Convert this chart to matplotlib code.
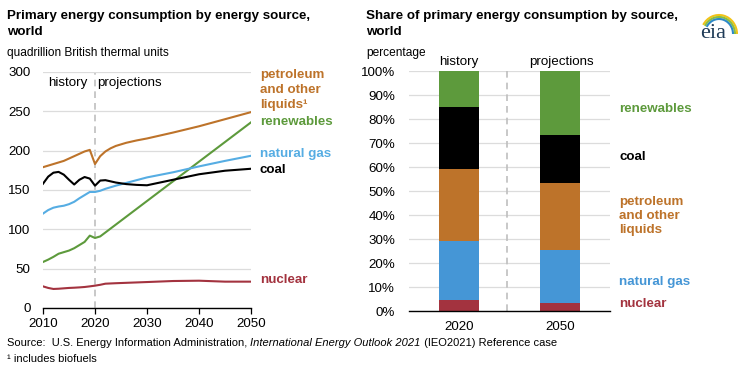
import numpy as np
import matplotlib
matplotlib.use('Agg')
import matplotlib.pyplot as plt
from matplotlib.patches import Arc

plt.rcParams['font.family'] = ['Liberation Sans', 'DejaVu Sans']

# ---------------- data ----------------
years = [2010, 2011, 2012, 2013, 2014, 2015, 2016, 2017, 2018, 2019, 2020,
         2021, 2022, 2023, 2024, 2026, 2028, 2030, 2035, 2040, 2045, 2050]
petroleum = [179, 181, 183, 185, 187, 190, 193, 196, 199, 201, 183,
             193, 199, 203, 206, 210, 213, 215.5, 223, 231, 240, 249]
coal = [158, 167, 172, 173, 169.5, 163, 157, 163, 166.5, 164.5, 155.5,
        162, 162.5, 161, 159.5, 157.5, 156.5, 156, 163, 170, 174.5, 177]
natural_gas = [120, 124.5, 127.5, 129, 130, 132, 135, 139.5, 143.5, 147.5, 147.5,
               149, 151.5, 153.5, 155.5, 159, 162.5, 166, 172.5, 180, 187, 193.5]
renewables = [58.5, 61.5, 65, 69, 71, 73, 76, 80, 84, 92, 89,
              91, 96, 101, 106, 116, 126, 136, 161, 186, 211, 236]
nuclear = [27.5, 25.5, 24.2, 24.5, 25, 25.5, 25.8, 26.2, 26.7, 27.5, 28.4,
           29.5, 30.9, 31.2, 31.5, 32, 32.5, 33, 34.3, 34.7, 33.5, 33.5]

share_years = ['2020', '2050']
share_nuclear = [4.4, 3.5]
share_gas = [24.6, 21.9]
share_petroleum = [30.2, 27.9]
share_coal = [25.9, 20.0]
share_renewables = [14.9, 26.7]

# colours
c_pet = '#BD732A'
c_ren = '#5D9A3C'
c_gas_line = '#56ADE3'
c_gas = '#4596D6'
c_coal = '#000000'
c_nuc = '#A3333F'
c_grid = '#DCDCDC'

W, H = 738, 384
fig = plt.figure(figsize=(W / 100, H / 100), dpi=100)


def fx(px):
    return px / W


def fy(py):
    return 1 - py / H


FS = 9.6   # ticks / labels
FT = 9.6   # titles
FU = 8.6   # units

# ---------------- left chart ----------------
ax1 = fig.add_axes([fx(43), fy(308), fx(251) - fx(43), fy(72) - fy(308)])
ax1.plot(years, nuclear, color=c_nuc, lw=1.5)
ax1.plot(years, renewables, color=c_ren, lw=1.5)
ax1.plot(years, natural_gas, color=c_gas_line, lw=1.5)
ax1.plot(years, coal, color=c_coal, lw=1.5)
ax1.plot(years, petroleum, color=c_pet, lw=1.5)
ax1.axvline(2020, color='#BFBFBF', lw=1.2, ls=(0, (4, 3)), zorder=0)
ax1.set_xlim(2010, 2050)
ax1.set_ylim(0, 300)
ax1.set_yticks(range(0, 301, 50))
ax1.set_xticks(range(2010, 2051, 10))
ax1.grid(axis='y', color=c_grid, lw=0.9)
ax1.set_axisbelow(True)
for s in ['left', 'right', 'top']:
    ax1.spines[s].set_visible(False)
ax1.spines['bottom'].set_color('#000000')
ax1.spines['bottom'].set_linewidth(1.0)
ax1.tick_params(axis='y', length=0, pad=9, labelsize=FS)
ax1.tick_params(axis='x', length=4, width=0.9, pad=3, labelsize=FS)
ax1.text(2011, 286, 'history', fontsize=FS, va='center', ha='left')
ax1.text(2020.5, 286, 'projections', fontsize=FS, va='center', ha='left')

lab = dict(fontsize=FS, fontweight='bold', va='center', ha='left')
fig.text(fx(260), fy(90), 'petroleum\nand other\nliquids\u00b9', color=c_pet,
         linespacing=1.3, **lab)
fig.text(fx(260), fy(122), 'renewables', color=c_ren, **lab)
fig.text(fx(260), fy(154), 'natural gas', color=c_gas_line, **lab)
fig.text(fx(260), fy(170), 'coal', color=c_coal, **lab)
fig.text(fx(260), fy(280), 'nuclear', color=c_nuc, **lab)

fig.text(fx(7), fy(24), 'Primary energy consumption by energy source,\nworld',
         fontsize=FT, fontweight='bold', va='center', ha='left', linespacing=1.4)
fig.text(fx(7), fy(53), 'quadrillion British thermal units', fontsize=FU,
         va='center', ha='left')

# ---------------- right chart ----------------
ax2 = fig.add_axes([fx(409), fy(311), fx(610) - fx(409), fy(71) - fy(311)])
x = np.arange(len(share_years))
bottom = np.zeros(len(share_years))
for vals, col in [(share_nuclear, c_nuc), (share_gas, c_gas),
                  (share_petroleum, c_pet), (share_coal, c_coal),
                  (share_renewables, c_ren)]:
    ax2.bar(x, vals, bottom=bottom, width=0.4, color=col, zorder=2)
    bottom += np.array(vals)
ax2.axvline(0.48, color='#BFBFBF', lw=1.2, ls=(0, (4, 3)), zorder=1)
ax2.set_xlim(-0.5, 1.5)
ax2.set_ylim(0, 100)
ax2.set_yticks(range(0, 101, 10))
ax2.set_yticklabels([f'{v}%' for v in range(0, 101, 10)])
ax2.set_xticks(x)
ax2.set_xticklabels(share_years)
ax2.grid(axis='y', color=c_grid, lw=0.9)
ax2.set_axisbelow(True)
for s in ['left', 'right', 'top']:
    ax2.spines[s].set_visible(False)
ax2.spines['bottom'].set_color('#000000')
ax2.spines['bottom'].set_linewidth(1.0)
ax2.tick_params(axis='y', length=0, pad=10, labelsize=FS)
ax2.tick_params(axis='x', length=0, pad=7, labelsize=FS)
fig.text(fx(459), fy(62), 'history', fontsize=FS, ha='center', va='center')
fig.text(fx(561), fy(62), 'projections', fontsize=FS, ha='center', va='center')

fig.text(fx(619), fy(109), 'renewables', color=c_ren, **lab)
fig.text(fx(619), fy(157), 'coal', color=c_coal, **lab)
fig.text(fx(619), fy(216), 'petroleum\nand other\nliquids', color=c_pet,
         linespacing=1.25, **lab)
fig.text(fx(619), fy(282), 'natural gas', color=c_gas, **lab)
fig.text(fx(619), fy(304), 'nuclear', color=c_nuc, **lab)

fig.text(fx(366), fy(24), 'Share of primary energy consumption by source,\nworld',
         fontsize=FT, fontweight='bold', va='center', ha='left', linespacing=1.4)
fig.text(fx(366), fy(53), 'percentage', fontsize=FU, va='center', ha='left')

# ---------------- source notes ----------------
fig.canvas.draw()
r = fig.canvas.get_renderer()
xpos = fx(7)
for txt, style in [('Source:  U.S. Energy Information Administration, ', 'normal'),
                   ('International Energy Outlook 2021', 'italic'),
                   (' (IEO2021) Reference case', 'normal')]:
    t = fig.text(xpos, fy(343), txt, fontsize=8.0, style=style, va='center', ha='left')
    bb = t.get_window_extent(renderer=r)
    xpos += bb.width / W
fig.text(fx(7), fy(359), '\u00b9 includes biofuels', fontsize=8.0, va='center', ha='left')

# ---------------- eia logo ----------------
lax = fig.add_axes([fx(688), fy(46), fx(50), fy(0) - fy(46)])
lax.set_xlim(0, 50)
lax.set_ylim(0, 46)
lax.axis('off')
lax.text(25, 13, 'eia', fontsize=16, family=['Liberation Serif', 'DejaVu Serif'],
         color='#1F3B57', ha='center', va='center')
for w, h, col in [(36, 38, '#F2C318'), (32, 34, '#8DBE3F'), (28, 30, '#2E8AC8')]:
    lax.add_patch(Arc((31, 12), w, h, theta1=0, theta2=150, color=col, lw=1.5))

fig.savefig('out.png', dpi=100)
